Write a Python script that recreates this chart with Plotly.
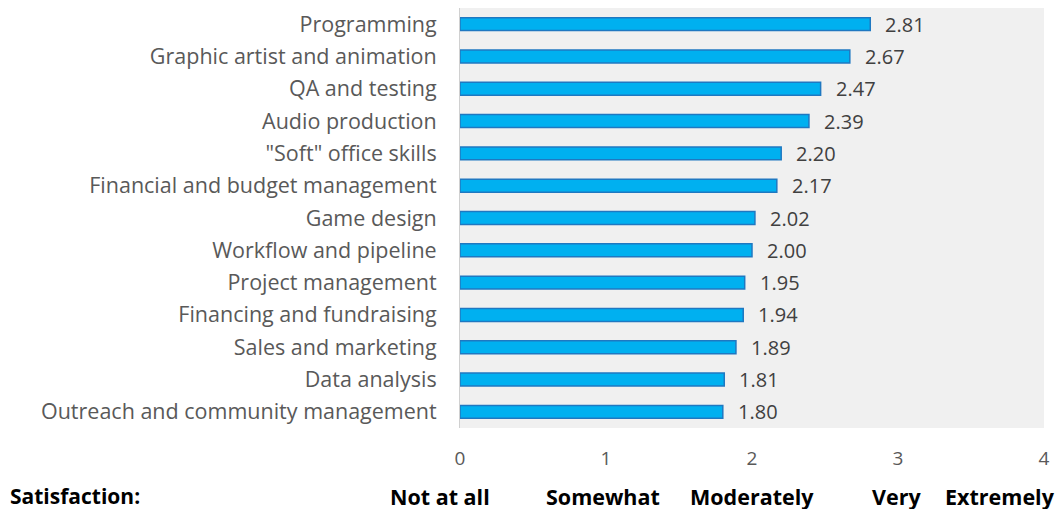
import plotly.graph_objects as go

categories = [
    "Programming", "Graphic artist and animation", "QA and testing", "Audio production",
    "\"Soft\" office skills", "Financial and budget management", "Game design",
    "Workflow and pipeline", "Project management", "Financing and fundraising",
    "Sales and marketing", "Data analysis", "Outreach and community management",
]
values = [2.81, 2.67, 2.47, 2.39, 2.20, 2.17, 2.02, 2.00, 1.95, 1.94, 1.89, 1.81, 1.80]
tick_vals = [0, 1, 2, 3, 4]
scale_labels = ["Not at all", "Somewhat", "Moderately", "Very", "Extremely"]
scale_pos = [0.0, 0.98, 2.0, 2.99, 3.7]
scale_shift = [-20, 0, 0, 0, 0]

FONT = "Open Sans"
fig = go.Figure()
fig.add_trace(go.Bar(
    y=categories, x=values, orientation="h",
    marker=dict(color="#00B0F0", line=dict(color="#1F78C1", width=1.5)),
    width=0.4, hoverinfo="x+y",
))
for c, v in zip(categories, values):
    fig.add_annotation(x=v, y=c, xref="x", yref="y", text=f"{v:.2f}", showarrow=False,
                       xanchor="left", xshift=13, font=dict(family=FONT, size=20, color="#404040"))

fig.add_annotation(x=0, y=-0.162, xref="paper", yref="paper", xanchor="left", yanchor="middle",
                   text="<b>Satisfaction:</b>", showarrow=False,
                   font=dict(family=FONT, size=21, color="#000000"), xshift=-452)
for lab, p, s in zip(scale_labels, scale_pos, scale_shift):
    fig.add_annotation(x=p, y=-0.162, xref="x", yref="paper", yanchor="middle",
                       xanchor="center", xshift=s,
                       text=f"<b>{lab}</b>", showarrow=False,
                       font=dict(family=FONT, size=21.5, color="#000000"))

fig.update_layout(
    width=1063, height=509,
    margin=dict(l=452, r=27, t=0, b=89),
    plot_bgcolor="#F0F0F0", paper_bgcolor="#FFFFFF",
    showlegend=False,
    xaxis=dict(range=[0, 4], tickvals=tick_vals, showgrid=False, zeroline=False,
               showline=False, ticklabelstandoff=17,
               tickfont=dict(family=FONT, size=19, color="#595959")),
    yaxis=dict(autorange="reversed", showgrid=False, zeroline=False,
               showline=True, linecolor="#D0D0D0", linewidth=1, ticks="",
               ticklabelstandoff=18,
               tickfont=dict(family=FONT, size=21.5, color="#595959")),
)
fig.write_html("out.html")
